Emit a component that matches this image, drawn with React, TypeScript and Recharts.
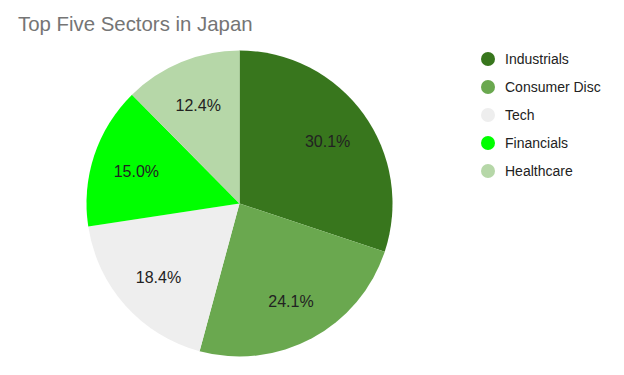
import React from 'react';
import { PieChart, Pie, Cell, Legend } from 'recharts';

const sectors = ['Industrials', 'Consumer Disc', 'Tech', 'Financials', 'Healthcare'];
const shares = [30.1, 24.1, 18.4, 15.0, 12.4];
const colors = ['#38761d', '#6aa84f', '#eeeeee', '#00ff00', '#b6d7a8'];

const data = sectors.map((name, i) => ({ name, value: shares[i] }));

const FONT = '"Liberation Sans", Arial, sans-serif';
const RAD = Math.PI / 180;

const renderLabel = (props: any) => {
  const { cx, cy, midAngle, outerRadius, value } = props;
  const r = outerRadius * 0.71;
  const x = cx + r * Math.cos(-midAngle * RAD);
  const y = cy + r * Math.sin(-midAngle * RAD) + 2;
  return (
    <text
      x={x}
      y={y}
      fill="#222222"
      textAnchor="middle"
      dominantBaseline="central"
      fontFamily={FONT}
      fontSize={16}
    >
      {`${value.toFixed(1)}%`}
    </text>
  );
};

const renderLegend = () => (
  <div style={{ fontFamily: FONT, fontSize: 14, color: '#222222' }}>
    {data.map((d, i) => (
      <div key={d.name} style={{ display: 'flex', alignItems: 'center', height: 28 }}>
        <svg width={14} height={14} style={{ marginRight: 10 }}>
          <circle cx={7} cy={7} r={7} fill={colors[i]} />
        </svg>
        <span>{d.name}</span>
      </div>
    ))}
  </div>
);

export default function App() {
  return (
    <div style={{ position: 'absolute', left: 0, top: 0, width: 624, height: 375, background: '#ffffff' }}>
      <div
        style={{
          position: 'absolute',
          left: 18,
          top: 13,
          fontFamily: FONT,
          fontSize: 20.4,
          color: '#757575',
          whiteSpace: 'nowrap',
        }}
      >
        Top Five Sectors in Japan
      </div>
      <PieChart width={624} height={375} margin={{ top: 0, right: 0, bottom: 0, left: 0 }}>
        <Pie
          data={data}
          dataKey="value"
          nameKey="name"
          cx={239.5}
          cy={203.5}
          outerRadius={153}
          startAngle={90}
          endAngle={-270}
          stroke="none"
          label={renderLabel}
          labelLine={false}
          isAnimationActive={false}
        >
          {data.map((d, i) => (
            <Cell key={d.name} fill={colors[i]} />
          ))}
        </Pie>
        <Legend
          content={renderLegend}
          wrapperStyle={{ position: 'absolute', left: 481, top: 45, width: 140 }}
        />
      </PieChart>
    </div>
  );
}
